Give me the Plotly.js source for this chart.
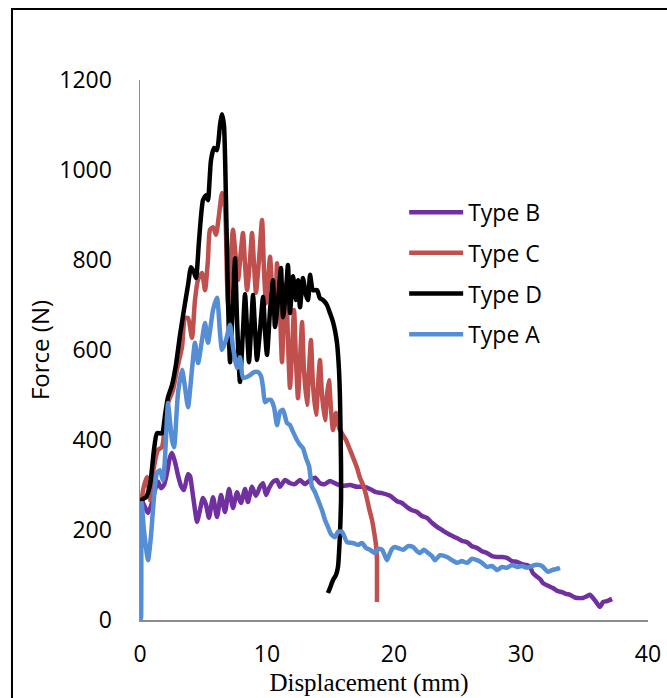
<!DOCTYPE html>
<html>
<head>
<meta charset="utf-8">
<script src="https://cdn.plot.ly/plotly-3.0.1.min.js"></script>
<style>
  html, body { margin: 0; padding: 0; background: #fff; }
  #chart { width: 667px; height: 698px; }
</style>
</head>
<body>
<div id="chart"></div>
<script>
// ---------- Data (displacement in mm, force in N) ----------
const seriesNames = ["Type B", "Type C", "Type D", "Type A"];
const seriesColors = ["#7030A0", "#C0504D", "#000000", "#558ED5"];

const xTickVals = [0, 10, 20, 30, 40];
const yTickVals = [0, 200, 400, 600, 800, 1000, 1200];

const typeB_x = [0.05,0.13,0.24,0.39,0.63,0.94,1.18,1.42,1.65,1.89,2.13,2.36,2.52,2.76,2.99,3.23,3.46,3.78,3.94,4.09,4.33,4.49,4.72,4.96,5.2,5.43,5.75,6.06,6.38,6.69,7.01,7.32,7.64,7.95,8.27,8.5,8.82,9.13,9.45,9.69,9.92,10.16,10.47,10.79,11.02,11.42,11.81,12.2,12.6,12.99,13.39,13.78,14.17,14.57,14.96,15.35,15.91,16.54,17.09,17.64,18.11,18.58,19.06,19.69,20.24,20.63,21.02,21.42,21.81,22.2,22.6,22.99,23.39,23.78,24.17,24.57,24.96,25.35,25.75,26.14,26.54,26.93,27.32,27.72,28.11,28.5,28.9,29.29,29.69,30.08,30.47,30.71,30.94,31.18,31.5,31.73,32.13,32.52,32.91,33.23,33.54,33.86,34.17,34.49,34.88,35.2,35.43,35.67,35.91,36.22,36.46,36.77,37.17];
const typeB_y = [5,273,260,251,238,260,289,307,293,300,327,362,371,351,322,298,289,324,320,293,244,218,244,271,256,227,273,229,278,240,291,249,284,260,291,262,296,276,296,304,278,293,307,311,296,311,304,302,311,302,311,316,304,302,309,304,298,300,296,296,291,284,282,276,264,260,251,244,240,231,227,216,207,200,193,187,182,176,173,164,160,153,149,142,140,140,138,131,129,124,122,118,104,98,91,82,76,71,64,62,58,56,51,49,49,53,56,49,40,29,40,42,47];

const typeC_x = [0.05,0.12,0.24,0.55,0.79,1.02,1.42,1.73,1.97,2.2,2.6,2.91,3.31,3.54,3.78,4.09,4.33,4.57,4.88,5.12,5.35,5.51,5.75,5.98,6.22,6.46,6.69,6.85,6.93,7.09,7.32,7.56,7.72,7.95,8.11,8.27,8.43,8.66,8.82,8.98,9.13,9.37,9.61,9.76,9.92,10.08,10.24,10.39,10.55,10.71,10.79,11.02,11.18,11.34,11.5,11.65,11.81,11.97,12.13,12.28,12.44,12.6,12.76,12.91,13.15,13.31,13.46,13.62,13.86,14.02,14.17,14.33,14.57,14.72,14.88,15.04,15.2,15.43,15.67,15.98,16.22,16.54,16.85,17.09,17.32,17.56,17.8,18.03,18.27,18.43,18.58,18.66,18.66,18.66];
const typeC_y = [200,256,289,318,267,327,378,384,438,482,511,556,607,671,671,627,711,756,771,733,800,867,873,856,900,949,918,756,704,778,867,800,756,822,860,789,733,800,860,789,727,800,889,778,704,756,807,744,696,733,793,689,573,689,749,622,516,600,689,578,493,578,662,556,478,556,622,522,456,522,578,500,444,500,533,467,422,460,427,411,400,378,356,338,316,300,278,249,222,196,167,133,89,40];

const typeD_x = [0.05,0.12,0.47,0.79,1.1,1.34,1.73,1.97,2.2,2.52,2.83,3.15,3.46,3.78,4.02,4.25,4.41,4.65,4.96,5.2,5.35,5.59,5.83,6.06,6.3,6.46,6.61,6.77,6.93,7.09,7.32,7.48,7.64,7.87,8.11,8.27,8.43,8.58,8.74,8.9,9.06,9.21,9.45,9.69,9.84,10.0,10.24,10.47,10.63,10.87,11.1,11.26,11.5,11.65,11.81,12.05,12.28,12.44,12.6,12.83,13.07,13.23,13.39,13.62,13.94,14.17,14.41,14.72,14.96,15.2,15.35,15.51,15.67,15.75,15.83,15.83,15.75,15.59,15.43,15.2,14.96,14.8];
const typeD_y = [240,267,273,300,378,415,415,455,495,522,567,633,689,744,784,773,760,844,933,944,933,1022,1049,1044,1100,1124,1100,933,711,573,711,804,667,529,644,724,644,573,644,722,644,578,644,718,644,589,689,755,651,711,782,673,733,789,682,764,711,755,695,760,722,711,767,733,733,715,711,700,682,662,644,616,555,489,340,267,193,118,100,89,71,60];

const typeA_x = [0.04,0.08,0.13,0.31,0.63,0.87,1.02,1.34,1.57,1.81,2.13,2.2,2.52,2.68,2.99,3.31,3.54,3.78,4.09,4.33,4.57,4.88,5.12,5.35,5.75,6.06,6.3,6.46,6.77,7.09,7.32,7.64,7.87,8.11,8.43,8.66,8.98,9.29,9.53,9.69,9.84,10.08,10.31,10.55,10.79,11.02,11.26,11.57,11.81,12.05,12.36,12.6,12.83,13.07,13.31,13.54,13.78,14.02,14.33,14.57,14.8,15.04,15.35,15.59,15.91,16.3,16.77,17.17,17.48,17.8,18.11,18.5,18.74,19.06,19.29,19.45,19.69,19.84,20.08,20.31,20.71,21.1,21.5,21.81,22.05,22.36,22.68,22.99,23.23,23.62,24.17,24.57,24.96,25.35,25.75,26.14,26.54,26.93,27.32,27.72,28.11,28.5,28.9,29.29,29.69,30.08,30.47,30.87,31.1,31.5,31.73,32.13,32.44,32.76,33.07];
const typeA_y = [0,5,260,200,133,189,244,327,333,311,451,482,400,384,504,556,518,473,556,616,571,622,660,616,689,716,638,600,622,656,607,560,584,538,540,544,551,551,542,516,484,489,489,473,433,462,467,438,433,418,400,389,382,360,342,296,284,267,244,222,207,191,184,196,196,173,171,167,171,160,156,149,158,156,142,133,149,158,162,160,156,164,162,153,149,156,149,142,133,144,140,133,127,131,127,136,133,127,118,120,111,118,116,122,118,120,116,120,122,122,118,107,111,113,116];

const seriesX = [typeB_x, typeC_x, typeD_x, typeA_x];
const seriesY = [typeB_y, typeC_y, typeD_y, typeA_y];

// ---------- Traces ----------
const traces = seriesNames.map((name, i) => ({
  type: "scatter",
  mode: "lines",
  name: name,
  x: seriesX[i],
  y: seriesY[i],
  legendgroup: "g" + i,
  line: { color: seriesColors[i], width: 4.5, shape: "spline", smoothing: 0.6 },
  hoverinfo: "skip"
}));

const tickFont = { family: "Open Sans, Noto Sans, sans-serif", size: 23, color: "#000" };

const layout = {
  width: 667,
  height: 698,
  margin: { l: 140, r: 19, t: 80, b: 78 },
  paper_bgcolor: "#ffffff",
  plot_bgcolor: "#ffffff",
  showlegend: true,
  legend: {
    x: 0.52, xanchor: "left",
    y: 0.795, yanchor: "top",
    font: { family: "Open Sans, Noto Sans, sans-serif", size: 23, color: "#000" },
    bgcolor: "rgba(0,0,0,0)",
    itemwidth: 54,
    tracegroupgap: 7.8,
    traceorder: "grouped"
  },
  xaxis: {
    range: [0, 40],
    tickvals: xTickVals,
    ticktext: xTickVals.map(String),
    ticks: "",
    showgrid: false,
    zeroline: false,
    showline: true,
    linecolor: "#8c8c8c",
    linewidth: 1.5,
    tickfont: tickFont,
    ticklabelstandoff: 13,
    title: {
      text: "Displacement (mm)&nbsp;&nbsp;&nbsp;&nbsp;&nbsp;&nbsp;&nbsp;&nbsp;",
      font: { family: "Liberation Serif, Times New Roman, serif", size: 25, color: "#000" },
      standoff: 0
    }
  },
  yaxis: {
    range: [0, 1200],
    tickvals: yTickVals,
    ticktext: yTickVals.map(String),
    ticks: "",
    showgrid: false,
    zeroline: false,
    showline: true,
    linecolor: "#8c8c8c",
    linewidth: 1.5,
    tickfont: tickFont,
    ticklabelstandoff: 22,
    title: {
      text: "Force (N)",
      font: { family: "Open Sans, Noto Sans, sans-serif", size: 24, color: "#000" },
      standoff: 3
    }
  },
  shapes: [{
    type: "rect", xref: "paper", yref: "paper",
    x0: -0.252, x1: 1.2, y0: -0.3, y1: 1.1315,
    line: { color: "#000", width: 2 },
    fillcolor: "rgba(0,0,0,0)",
    layer: "above"
  }]
};

Plotly.newPlot("chart", traces, layout, { staticPlot: true, displayModeBar: false }).then(() => {
  document.querySelectorAll(".legend .legendlines path").forEach(p => {
    p.setAttribute("d", "M5,0h54");
  });
});
</script>
</body>
</html>
